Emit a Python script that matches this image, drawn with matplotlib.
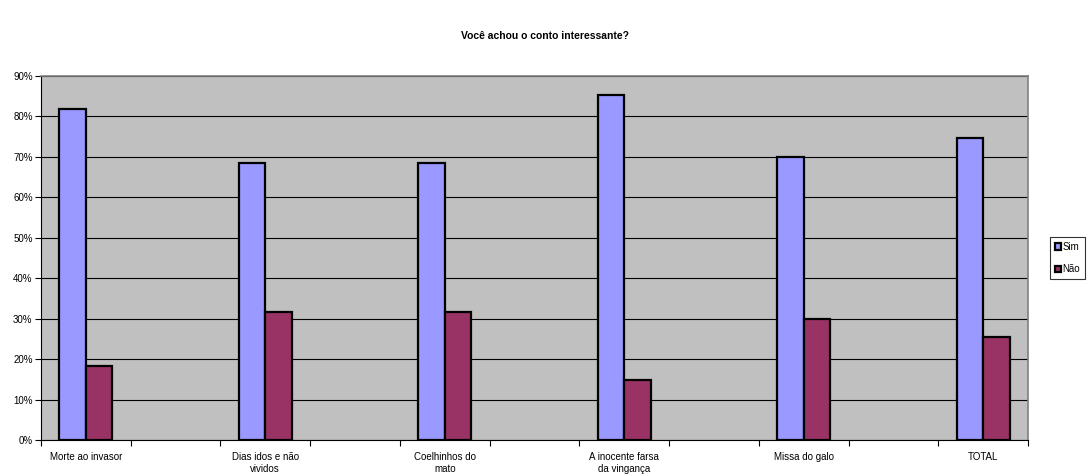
import matplotlib.pyplot as plt
import numpy as np

plt.rcParams['font.family'] = ['Liberation Sans', 'DejaVu Sans']

titulo = "Você achou o conto interessante?"
contos = ["Morte ao invasor", "Dias idos e não\nvividos", "Coelhinhos do\nmato",
          "A inocente farsa\nda vingança", "Missa do galo", "TOTAL"]
sim = [81.8, 68.4, 68.4, 85.2, 70.0, 74.6]
nao = [18.2, 31.6, 31.6, 14.8, 30.0, 25.4]
yticks = np.arange(0, 91, 10)

# excel layout: every other category slot is left blank
slots = 2 * len(contos) - 1
x = np.arange(len(contos)) * 2
w = 0.295

fig = plt.figure(figsize=(10.9, 4.76), dpi=100)
ax = fig.add_axes([41 / 1090, 1 - 440 / 476, 987 / 1090, 364 / 476])
ax.set_facecolor("#C0C0C0")

ax.bar(x - w / 2, sim, w, color="#9999FF", edgecolor="black", linewidth=1.6,
       label="Sim", zorder=3)
ax.bar(x + w / 2, nao, w, color="#993366", edgecolor="black", linewidth=1.6,
       label="Não", zorder=3)

ax.set_xlim(-0.5, slots - 0.5)
ax.set_ylim(0, 90)
ax.set_yticks(yticks)
ax.set_yticklabels([f"{v}%" for v in yticks], fontsize=7)
ax.yaxis.grid(True, color="black", linewidth=0.8, zorder=1)

ax.set_xticks(np.arange(slots + 1) - 0.5)
ax.set_xticklabels([])
ax.set_xticks(x, minor=True)
ax.set_xticklabels(contos, minor=True, fontsize=7)
ax.tick_params(axis="x", which="minor", length=0, pad=9)
ax.tick_params(axis="x", which="major", length=4, width=0.8, direction="out")
ax.tick_params(axis="y", length=4, width=0.8, direction="out", pad=2)

for s in ["top", "right"]:
    ax.spines[s].set_color("#808080")
    ax.spines[s].set_linewidth(1.2)
for s in ["left", "bottom"]:
    ax.spines[s].set_color("black")
    ax.spines[s].set_linewidth(0.8)

fig.text(0.5, 1 - 36 / 476, titulo, ha="center", va="center", fontsize=7.5,
         fontweight="bold")

h, l = ax.get_legend_handles_labels()
leg = fig.legend(h, l, loc="upper left",
                 bbox_to_anchor=(1050 / 1090, 1 - 237 / 476),
                 fontsize=7, frameon=True, fancybox=False, edgecolor="black",
                 handlelength=0.6, handleheight=0.6, handletextpad=0.15,
                 borderpad=0.5, labelspacing=1.3, borderaxespad=0)
leg.get_frame().set_linewidth(0.8)

fig.savefig("out.png", dpi=100)
